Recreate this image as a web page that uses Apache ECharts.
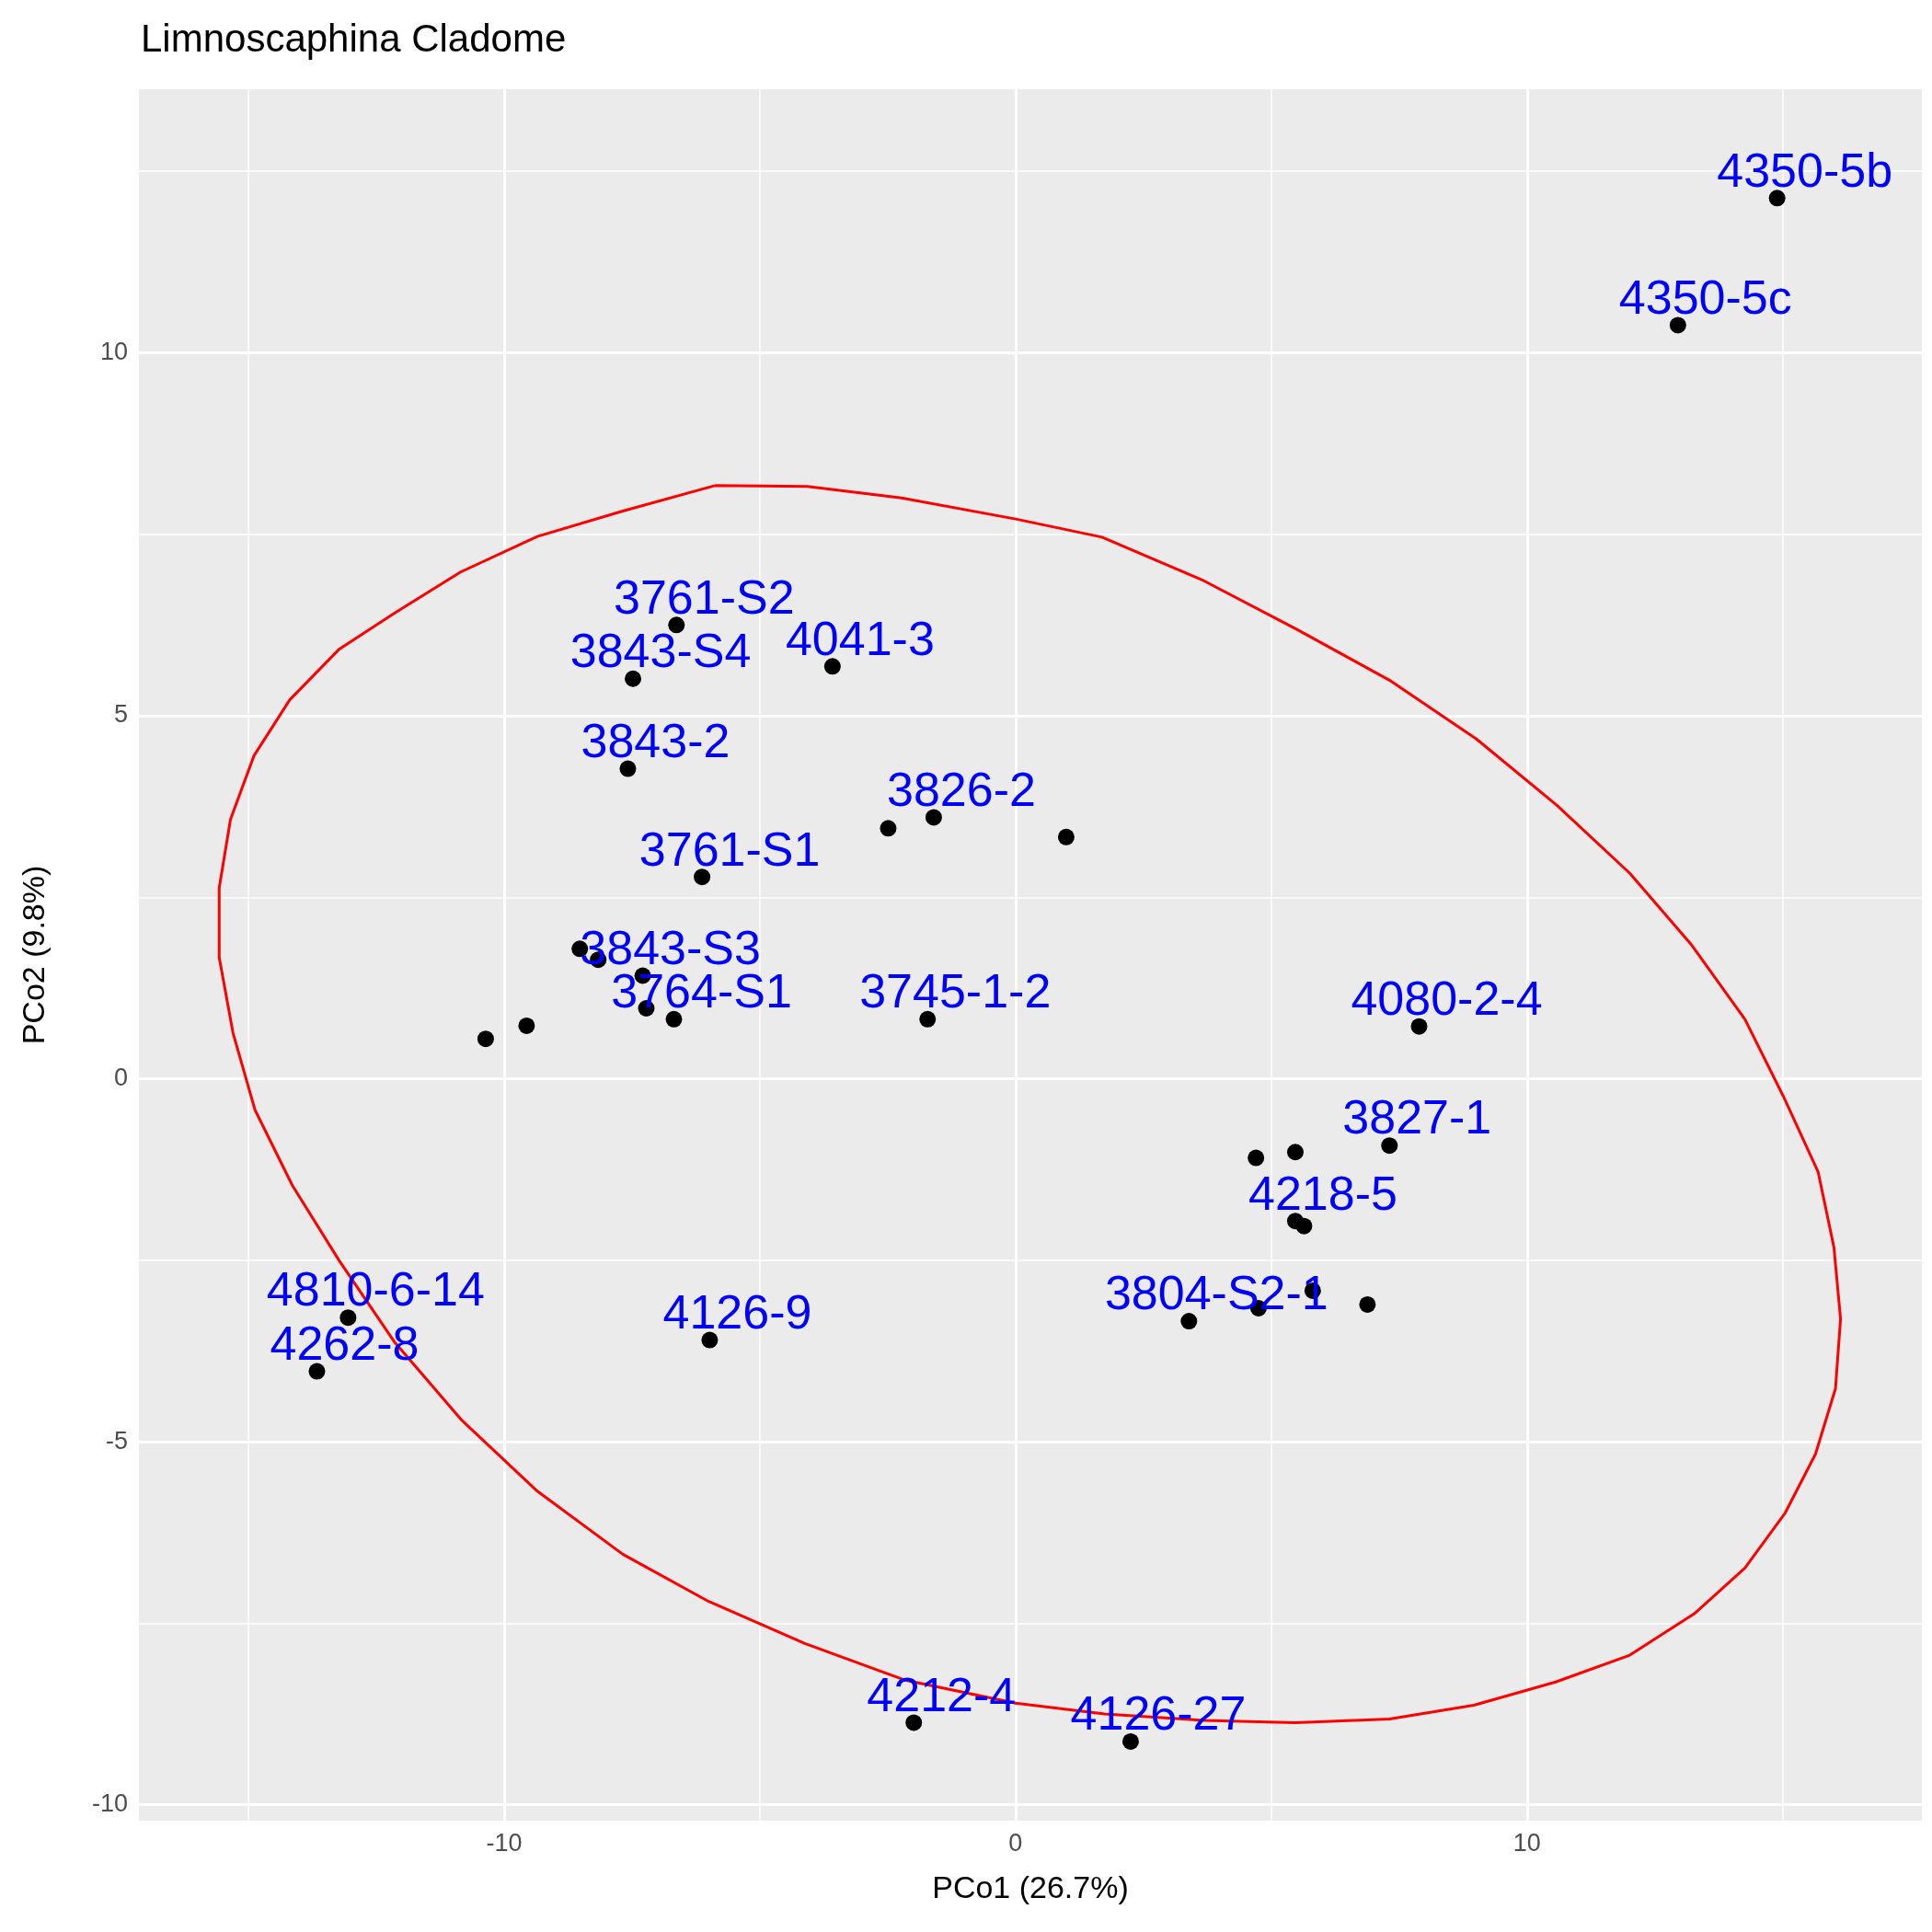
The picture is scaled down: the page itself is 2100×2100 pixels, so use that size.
<!DOCTYPE html>
<html><head><meta charset="utf-8">
<script src="https://cdn.jsdelivr.net/npm/echarts@6/dist/echarts.min.js"></script>
<style>html,body{margin:0;padding:0;background:#fff}#c{width:2100px;height:2100px}</style>
</head><body><div id="c"></div>
<script>
// sample points (PCo1, PCo2) and their labels ('' = unlabelled)
var pcoX = [14.89, 12.95, -6.63, -7.48, -3.58, -7.58, -1.60, -2.49, 0.99, -6.13, -8.52, -8.16, -7.29, -6.68, -7.22, -9.56, -10.36, -1.72, 7.89, 7.31, 5.47, 4.70, 5.47, 5.64, 3.39, 4.75, 5.81, 6.88, -13.05, -13.66, -5.98, -1.99, 2.25];
var pcoY = [12.13, 10.38, 6.25, 5.51, 5.68, 4.27, 3.60, 3.45, 3.33, 2.78, 1.79, 1.64, 1.42, 0.82, 0.97, 0.73, 0.55, 0.82, 0.72, -0.92, -1.01, -1.09, -1.96, -2.03, -3.34, -3.16, -2.92, -3.11, -3.29, -4.03, -3.60, -8.87, -9.13];
var pointLabels = ['4350-5b', '4350-5c', '3761-S2', '3843-S4', '4041-3', '3843-2', '3826-2', '', '', '3761-S1', '', '', '3843-S3', '3764-S1', '', '', '', '3745-1-2', '4080-2-4', '3827-1', '', '', '4218-5', '', '3804-S2-1', '', '', '', '4810-6-14', '4262-8', '4126-9', '4212-4', '4126-27'];

// ellipse outline
var ellX = [-5.88, -4.07, -2.23, 0, 1.69, 3.68, 5.50, 7.31, 9.01, 10.58, 12.01, 13.22, 14.26, 15.01, 15.69, 16.00, 16.13, 16.03, 15.64, 15.04, 14.26, 13.27, 12.01, 10.56, 8.96, 7.31, 5.47, 3.68, 1.74, 0, -2.18, -4.12, -6.00, -7.68, -9.37, -10.82, -12.15, -13.22, -14.14, -14.87, -15.30, -15.57, -15.57, -15.35, -14.89, -14.19, -13.22, -12.13, -10.85, -9.35, -7.68, -5.88];
var ellY = [8.17, 8.16, 8.00, 7.71, 7.46, 6.86, 6.19, 5.49, 4.68, 3.77, 2.83, 1.84, 0.82, -0.24, -1.28, -2.32, -3.31, -4.27, -5.17, -5.99, -6.74, -7.37, -7.94, -8.31, -8.63, -8.82, -8.87, -8.84, -8.75, -8.60, -8.28, -7.78, -7.20, -6.55, -5.67, -4.71, -3.62, -2.51, -1.47, -0.43, 0.63, 1.67, 2.63, 3.57, 4.45, 5.22, 5.92, 6.42, 6.98, 7.47, 7.82, 8.17];

var xMajor = [-10, 0, 10], xMinor = [-15, -5, 5, 15];
var yMajor = [-10, -5, 0, 5, 10], yMinor = [-7.5, -2.5, 2.5, 7.5, 12.5];

var chart = echarts.init(document.getElementById('c'));
var pts = pcoX.map(function(x, i) { return { value: [x, pcoY[i]], name: pointLabels[i] }; });
var ell = ellX.map(function(x, i) { return [x, ellY[i]]; });

var gridLines = [];
xMinor.forEach(function(v) { gridLines.push({ xAxis: v, lineStyle: { width: 1.5 } }); });
yMinor.forEach(function(v) { gridLines.push({ yAxis: v, lineStyle: { width: 1.5 } }); });
xMajor.forEach(function(v) { gridLines.push({ xAxis: v, lineStyle: { width: 3 } }); });
yMajor.forEach(function(v) { gridLines.push({ yAxis: v, lineStyle: { width: 3 } }); });

var fnt = 'Liberation Sans, Arial, sans-serif';
var option = {
  animation: false,
  title: { text: 'Limnoscaphina Cladome', left: 148, top: 18,
    textStyle: { fontFamily: fnt, fontSize: 42, fontWeight: 'normal', color: '#000' } },
  grid: { left: 151, right: 11, top: 97, bottom: 121, show: true, backgroundColor: '#ebebeb', borderWidth: 0 },
  xAxis: {
    type: 'value', min: -17.14, max: 17.72,
    name: 'PCo1 (26.7%)', nameLocation: 'middle', nameGap: 58,
    nameTextStyle: { fontFamily: fnt, fontSize: 34, color: '#000' },
    axisLine: { show: false }, splitLine: { show: false },
    axisTick: { show: true, customValues: xMajor, length: 7, lineStyle: { color: '#333', width: 2 } },
    axisLabel: { customValues: xMajor, fontFamily: fnt, fontSize: 27, color: '#4d4d4d', margin: 12 }
  },
  yAxis: {
    type: 'value', min: -10.22, max: 13.63,
    name: 'PCo2 (9.8%)', nameLocation: 'middle', nameGap: 95,
    nameTextStyle: { fontFamily: fnt, fontSize: 34, color: '#000' },
    axisLine: { show: false }, splitLine: { show: false },
    axisTick: { show: true, customValues: yMajor, length: 7, lineStyle: { color: '#333', width: 2 } },
    axisLabel: { customValues: yMajor, fontFamily: fnt, fontSize: 27, color: '#4d4d4d', margin: 12 }
  },
  series: [
    { type: 'line', data: [], silent: true, zlevel: 0, z: 1,
      markLine: { silent: true, symbol: 'none', label: { show: false },
        lineStyle: { color: '#fff', type: 'solid' }, data: gridLines } },
    { type: 'line', data: ell, showSymbol: false, symbol: 'none', zlevel: 1, z: 3,
      lineStyle: { color: '#ff0000', width: 3 } },
    { type: 'scatter', data: pts, symbolSize: 18, zlevel: 1, z: 4, clip: false,
      itemStyle: { color: '#000', opacity: 1 },
      label: { show: true, position: 'top', distance: 0, formatter: '{b}',
        fontFamily: fnt, fontSize: 52, color: '#0000ff', opacity: 1 },
      labelLayout: { dx: 30, dy: 8, hideOverlap: false } }
  ]
};
chart.setOption(option);
</script></body></html>
